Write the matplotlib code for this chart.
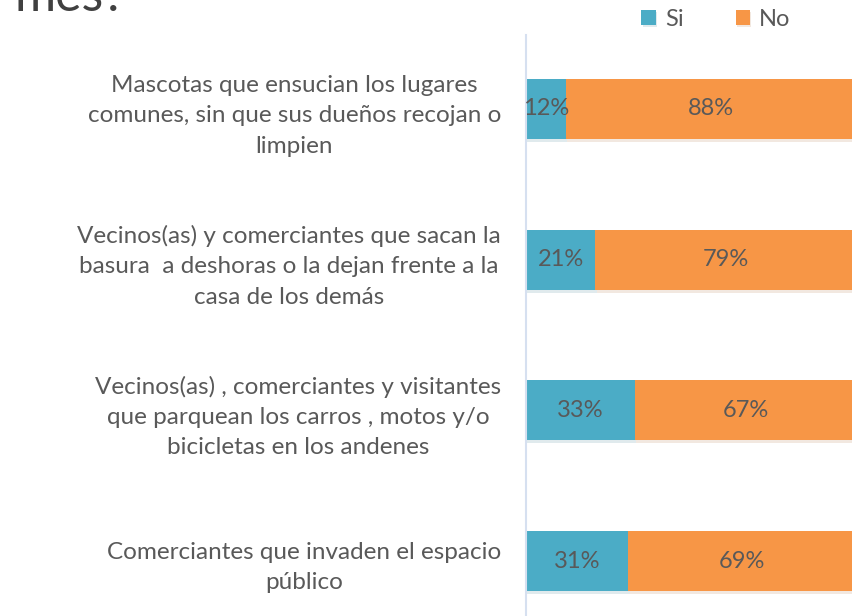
import matplotlib
matplotlib.use("Agg")
import matplotlib.pyplot as plt
import matplotlib.patheffects as pe

categories = [
    "Mascotas que ensucian los lugares\ncomunes, sin que sus dueños recojan o\nlimpien",
    "Vecinos(as) y comerciantes que sacan la\nbasura  a deshoras o la dejan frente a la\ncasa de los demás",
    "Vecinos(as) , comerciantes y visitantes\nque parquean los carros , motos y/o\nbicicletas en los andenes",
    "Comerciantes que invaden el espacio\npúblico",
]
si_values = [12, 21, 33, 31]
no_values = [88, 79, 67, 69]
series_names = ["Si", "No"]
title_fragment = "mes?"

plt.rcParams['font.family'] = ['Lato', 'DejaVu Sans']
W, H = 852, 616
fig = plt.figure(figsize=(W / 100, H / 100), dpi=100)

left = 526 / W
top = 35
ax = fig.add_axes([left, 0, 1 - left, 1 - top / H])

blue = "#4BACC6"
orange = "#F79646"
txt = "#595959"

y = list(range(len(categories)))
shadow = [pe.SimplePatchShadow(offset=(1, -2), alpha=0.15, rho=0.7), pe.Normal()]
b1 = ax.barh(y, si_values, height=0.4, color=blue, label=series_names[0])
b2 = ax.barh(y, no_values, left=si_values, height=0.4, color=orange, label=series_names[1])
for b in list(b1) + list(b2):
    b.set_path_effects(shadow)

for i in y:
    ax.text(si_values[i] / 2, i, f"{si_values[i]}%", ha="center", va="center",
            fontsize=17, color=txt)
    ax.text(si_values[i] + no_values[i] / 2, i, f"{no_values[i]}%", ha="center",
            va="center", fontsize=17, color=txt)

ax.set_xlim(0, 98.8)
ax.set_ylim(3.365, -0.491)
ax.set_xticks([])
ax.set_yticks(y)
ax.set_yticklabels(categories, fontsize=17.5, color=txt, ha="right", multialignment="center",
                   linespacing=1.55)
ax.tick_params(axis="y", length=0, pad=18)
for s in ["top", "right", "bottom"]:
    ax.spines[s].set_visible(False)
ax.spines["left"].set_color("#D6E0F0")
ax.spines["left"].set_linewidth(1.5)

# legend
fig.legend(handles=[b1, b2], labels=series_names, loc="center", bbox_to_anchor=(716 / W, 1 - 19 / H),
           ncol=2, frameon=False, fontsize=17, handlelength=0.6, handleheight=0.6,
           handletextpad=0.4, columnspacing=2.2, labelcolor=txt)

# cut-off title
fig.text(14 / W, 1 - 11 / H, title_fragment,
         fontsize=36, color="#404040", ha="left", va="baseline")

fig.savefig("out.png", dpi=100)
